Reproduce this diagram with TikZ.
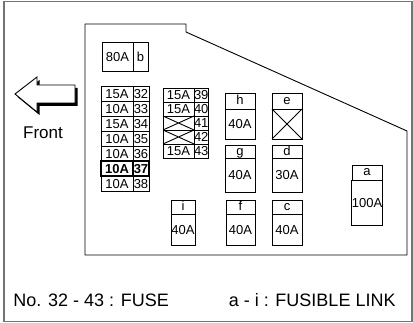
\documentclass[tikz,border=0pt]{standalone}
\usepackage{fontspec}
\setmainfont{Liberation Sans}
\usetikzlibrary{positioning}

\newcommand{\fusefont}{\fontsize{13}{13}\selectfont}
\newcommand{\notefont}{\fontsize{18}{18}\selectfont}

\begin{document}
\begin{tikzpicture}[x=1pt, y=-1pt, node distance=0pt, line width=0.9pt,
  amp/.style={draw, minimum width=32pt, minimum height=15pt, inner sep=0pt, outer sep=0pt,
    text height=9.3pt, text depth=0pt, font=\fusefont},
  num/.style={amp, minimum width=16pt},
  hot/.style={line width=1.9pt, font=\fusefont\bfseries},
  amptwo/.style={amp, minimum width=31pt, minimum height=14pt},
  numtwo/.style={amptwo, minimum width=14pt},
  tag/.style={draw, minimum width=30pt, minimum height=16pt, inner sep=0pt, outer sep=0pt,
    text height=9.5pt, text depth=2.7pt, font=\fusefont},
  body/.style={tag, minimum height=30pt, text depth=0pt},
  note/.style={inner sep=0pt, font=\notefont}]
  \useasboundingbox (0,0) rectangle (413,323);
  \draw[black!55, line width=1.5pt] (4,1.5) rectangle (412,321.5);

  % Front arrow
  \fill[shift={(2.5,3)}] (15,94) -- (37,77) -- (37,85) -- (75,85) -- (75,103) -- (37,103) -- (37,112) -- cycle;
  \filldraw[fill=white] (15,94) -- (37,77) -- (37,85) -- (75,85) -- (75,103) -- (37,103) -- (37,112) -- cycle;
  \node[font=\fontsize{17}{17}\selectfont] (front) at (43,133) {Front};

  % Fuse block outline
  \draw (85,24) -- (186,24) -- (186,32) -- (407,131) -- (407,255) -- (85,255) -- cycle;

  % 80A link
  \node[amp, minimum width=31pt, minimum height=29pt] (b) at (117.5,56.5) {80A};
  \node[num, minimum width=15pt, minimum height=29pt, right=of b] (bnum) {b};

  % Fuses 32 - 38
  \node[amp] (v32) at (117,93.5) {15A};
  \node[num, right=of v32] (n32) {32};
  \node[amp, below=of v32] (v33) {10A};
  \node[num, right=of v33] (n33) {33};
  \node[amp, below=of v33] (v34) {15A};
  \node[num, right=of v34] (n34) {34};
  \node[amp, below=of v34] (v35) {10A};
  \node[num, right=of v35] (n35) {35};
  \node[amp, below=of v35] (v36) {10A};
  \node[num, right=of v36] (n36) {36};
  \node[amp, hot, below=of v36] (v37) {10A};
  \node[num, hot, right=of v37] (n37) {37};
  \node[amp, below=of v37] (v38) {10A};
  \node[num, right=of v38] (n38) {38};

  % Fuses 39 - 43
  \node[amptwo] (v39) at (178.5,95) {15A};
  \node[numtwo, right=of v39] (n39) {39};
  \node[amptwo, below=of v39] (v40) {15A};
  \node[numtwo, right=of v40] (n40) {40};
  \node[amptwo, below=of v40] (v41) {};
  \node[numtwo, right=of v41] (n41) {41};
  \node[amptwo, below=of v41] (v42) {};
  \node[numtwo, right=of v42] (n42) {42};
  \node[amptwo, below=of v42] (v43) {15A};
  \node[numtwo, right=of v43] (n43) {43};
  \draw (v41.north west) -- (v41.south east) (v41.south west) -- (v41.north east);
  \draw (v42.north west) -- (v42.south east) (v42.south west) -- (v42.north east);

  % Fusible links
  \node[tag] (h) at (240,101) {h};
  \node[body, below=of h] (hbody) {40A};
  \node[tag] (e) at (287,101) {e};
  \node[body, below=of e] (ebody) {};
  \draw (ebody.north west) -- (ebody.south east) (ebody.south west) -- (ebody.north east);
  \node[tag, minimum height=12pt] (g) at (240,152) {g};
  \node[body, minimum height=34pt, below=of g] (gbody) {40A};
  \node[tag, minimum height=12pt] (d) at (287,152) {d};
  \node[body, minimum height=34pt, below=of d] (dbody) {30A};
  \node[tag, minimum width=24pt, minimum height=14pt] (i) at (183,207) {i};
  \node[body, minimum width=24pt, minimum height=31pt, below=of i] (ibody) {40A};
  \node[tag, minimum width=29pt, minimum height=14pt] (f) at (240.5,207) {f};
  \node[body, minimum width=29pt, minimum height=31pt, below=of f] (fbody) {40A};
  \node[tag, minimum height=14pt] (c) at (287,207) {c};
  \node[body, minimum height=31pt, below=of c] (cbody) {40A};
  \node[tag, minimum height=15pt] (a) at (367,172.5) {a};
  \node[body, minimum height=45pt, below=of a] (abody) {100A};

  % Legend
  \node[note, anchor=west] (fusenote) at (13,300) {No. 32 - 43 : FUSE};
  \node[note, anchor=east] (linknote) at (396,300) {a - i : FUSIBLE LINK};
\end{tikzpicture}
\end{document}
